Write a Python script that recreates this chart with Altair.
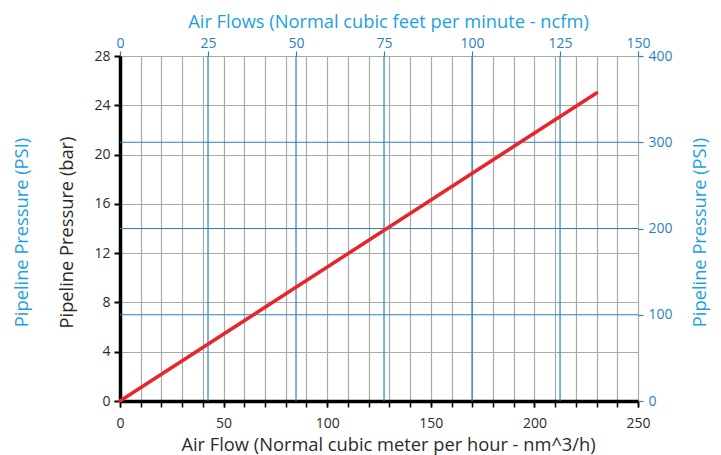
import altair as alt
import pandas as pd

# ---- data ----
flow_nm3h = [0, 230]
pressure_bar = [0, 25]
ncfm_ticks = [0, 25, 50, 75, 100, 125, 150]
ncfm_lines = [25, 50, 75, 100, 125]
psi_lines = [100, 200, 300]
bar_ticks = [0, 4, 8, 12, 16, 20, 24, 28]
psi_ticks = [0, 100, 200, 300, 400]
nm3h_labels = [0, 50, 100, 150, 200, 250]
nm3h_ticks = list(range(0, 251, 10))
NM3H_PER_NCFM = 1.699
X_MAX = 250
BAR_MAX = 28
PSI_MAX = 400

line_df = pd.DataFrame({"flow": flow_nm3h, "bar": pressure_bar})
vline_df = pd.DataFrame({"ncfm": ncfm_lines})
hline_df = pd.DataFrame({"psi": psi_lines})
top_tick_pos = [min(v * NM3H_PER_NCFM, X_MAX) for v in ncfm_ticks]

BLUE_TITLE = "#1d9fe0"
BLUE = "#2c7fc0"
RED = "#e8252b"
GRAY = "#a9a9a9"
DARK = "#2b2b2b"
FONT = "Open Sans"
H_TITLE_X = 268
V_TITLE_Y = 176

xscale = alt.Scale(domain=[0, X_MAX], nice=False, zero=True)
psi_scale = alt.Scale(domain=[0, PSI_MAX], nice=False)

# gray vertical grid + minor ticks every 10 nm^3/h
xgrid = alt.Chart(vline_df).transform_calculate(
    flow=f"datum.ncfm * {NM3H_PER_NCFM}"
).mark_rule(opacity=0).encode(
    x=alt.X("flow:Q", scale=xscale, axis=alt.Axis(
        orient="bottom", values=nm3h_ticks, labels=False, title=None,
        grid=True, gridColor=GRAY, gridWidth=1.2, domain=False,
        tickColor="black", tickSize=6, tickWidth=1.5)),
)

red = alt.Chart(line_df).mark_line(color=RED, strokeWidth=3.5, strokeCap="round").encode(
    x=alt.X("flow:Q", scale=xscale, axis=alt.Axis(
        orient="bottom", values=nm3h_labels,
        title="Air Flow (Normal cubic meter per hour - nm^3/h)", titleX=H_TITLE_X,
        grid=False, domainColor="black", domainWidth=3.5,
        tickColor="black", tickSize=6, tickWidth=1.5,
        labelColor=DARK, titleColor=DARK, labelPadding=9, titlePadding=6,
        labelFlush=False, labelOverlap=False)),
    y=alt.Y("bar:Q", scale=alt.Scale(domain=[0, BAR_MAX], nice=False), axis=alt.Axis(
        orient="left", values=bar_ticks, title="Pipeline Pressure (bar)", titleY=V_TITLE_Y,
        grid=True, gridColor=GRAY, gridWidth=1.2,
        domainColor="black", domainWidth=3.5,
        tickColor="black", tickSize=6, tickWidth=2,
        labelColor=DARK, titleColor=DARK, labelPadding=4, titlePadding=17,
        labelFlush=False, labelOverlap=False)),
)

vrules = alt.Chart(vline_df).transform_calculate(
    flow=f"datum.ncfm * {NM3H_PER_NCFM}"
).mark_rule(color=BLUE, strokeWidth=1.2).encode(
    x=alt.X("flow:Q", scale=xscale, axis=alt.Axis(
        orient="top", values=top_tick_pos,
        labelExpr=f"format(round(datum.value / {NM3H_PER_NCFM} / 25) * 25, 'd')",
        title="Air Flows (Normal cubic feet per minute - ncfm)", titleX=H_TITLE_X,
        grid=False, domain=False, tickColor=BLUE, tickSize=5, tickWidth=1.2,
        labelColor=BLUE, titleColor=BLUE_TITLE, labelPadding=1, titlePadding=5,
        labelFlush=False, labelOverlap=False)),
)

hrules = alt.Chart(hline_df).mark_rule(color=BLUE, strokeWidth=1.2).encode(
    y=alt.Y("psi:Q", scale=psi_scale, axis=alt.Axis(
        orient="right", values=psi_ticks, title="Pipeline Pressure (PSI)", titleY=V_TITLE_Y,
        grid=False, domain=False, tickColor=BLUE, tickSize=5, tickWidth=1.2,
        labelColor=BLUE, titleColor=BLUE_TITLE, titleAngle=270, titleBaseline="top",
        labelPadding=5, titlePadding=19, labelFlush=False, labelOverlap=False)),
)

psi_left = alt.Chart(hline_df).mark_rule(opacity=0).encode(
    y=alt.Y("psi:Q", scale=psi_scale, axis=alt.Axis(
        orient="left", labels=False, ticks=False, domain=False, grid=False,
        title="Pipeline Pressure (PSI)", titleY=V_TITLE_Y,
        titleColor=BLUE_TITLE, titlePadding=89)),
)

chart = alt.layer(xgrid, vrules, hrules, psi_left, red).resolve_scale(
    y="independent"
).resolve_axis(
    x="independent", y="independent"
).properties(
    width=518, height=345, autosize="none",
    padding={"left": 112, "top": 48, "right": 75, "bottom": 54},
).configure_view(stroke=None).configure_axis(
    labelFont=FONT, titleFont=FONT, labelFontSize=14, titleFontSize=18.3,
    titleFontWeight="normal",
)

chart.save("out.html", embed_options={"renderer": "svg", "actions": False})
